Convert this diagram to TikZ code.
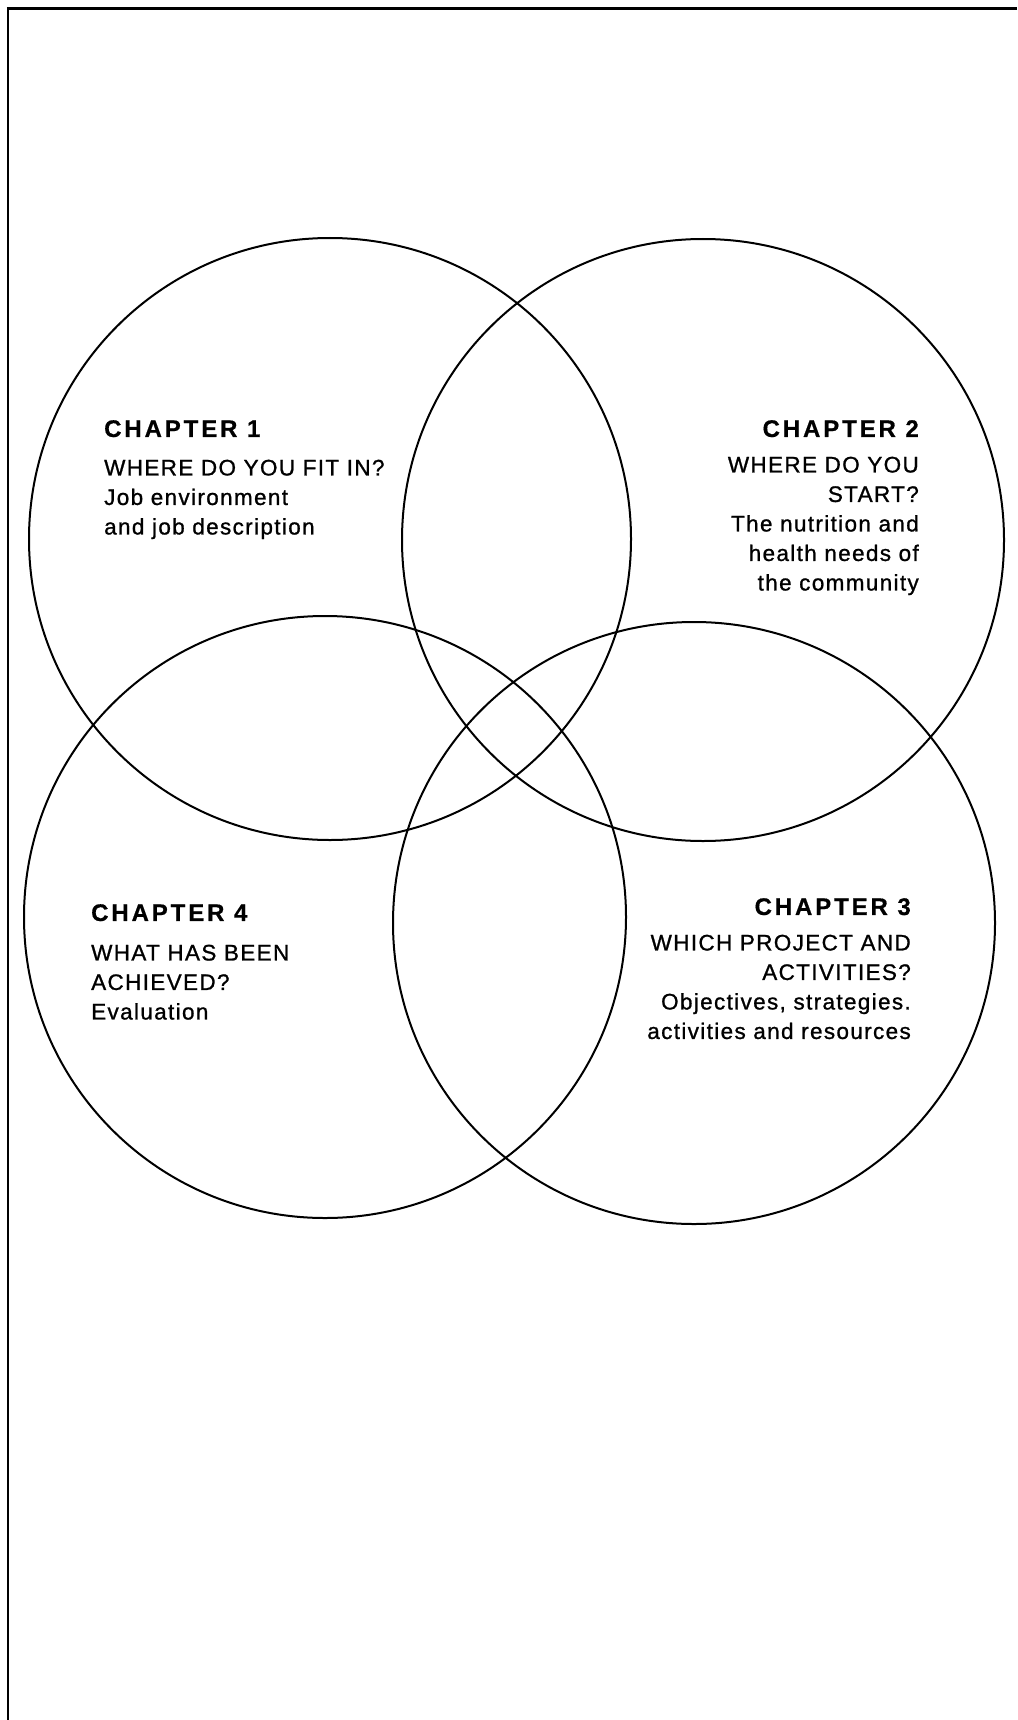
\documentclass[tikz,border=0pt]{standalone}
\usepackage{fontspec}
\setmainfont{Liberation Sans}[LetterSpace=6, FakeBold=1,
  BoldFeatures={LetterSpace=12, FakeBold=0.6}]
\newcommand\chaphead[1]{{\fontsize{24}{29.5}\selectfont\bfseries #1}}

\begin{document}
\begin{tikzpicture}[x=1pt, y=-1pt,
  venn/.style={draw, circle, line width=2pt, minimum size=602pt, inner sep=0pt},
  chap/.style={inner sep=0pt, font=\fontsize{22.5}{29.5}\selectfont}]
\useasboundingbox (0,0) rectangle (1017,1720);
% page frame
\draw[line width=2.5pt] (8,1720) -- (8,8.5);
\draw[line width=3pt] (6.75,8.5) -- (1017,8.5);
% the four circles
\node[venn] (c1) at (330,539) {};
\node[venn] (c2) at (703,540) {};
\node[venn] (c3) at (694,923) {};
\node[venn] (c4) at (325,917) {};
% chapter texts
\node[chap, anchor=north west, align=left] (t1) at (104,420) {\chaphead{CHAPTER 1}\\[9pt] WHERE DO YOU FIT IN?\\ Job environment\\ and job description};
\node[chap, anchor=north east, align=right] (t2) at (919,420) {\chaphead{CHAPTER 2}\\[6pt] WHERE DO YOU\\ START?\\ The nutrition and\\ health needs of\\ the community};
\node[chap, anchor=north east, align=right] (t3) at (911,898) {\chaphead{CHAPTER 3}\\[6pt] WHICH PROJECT AND\\ ACTIVITIES?\\ Objectives, strategies.\\ activities and resources};
\node[chap, anchor=north west, align=left] (t4) at (91,904) {\chaphead{CHAPTER 4}\\[10pt] WHAT HAS BEEN\\ ACHIEVED?\\ Evaluation};
\end{tikzpicture}
\end{document}
